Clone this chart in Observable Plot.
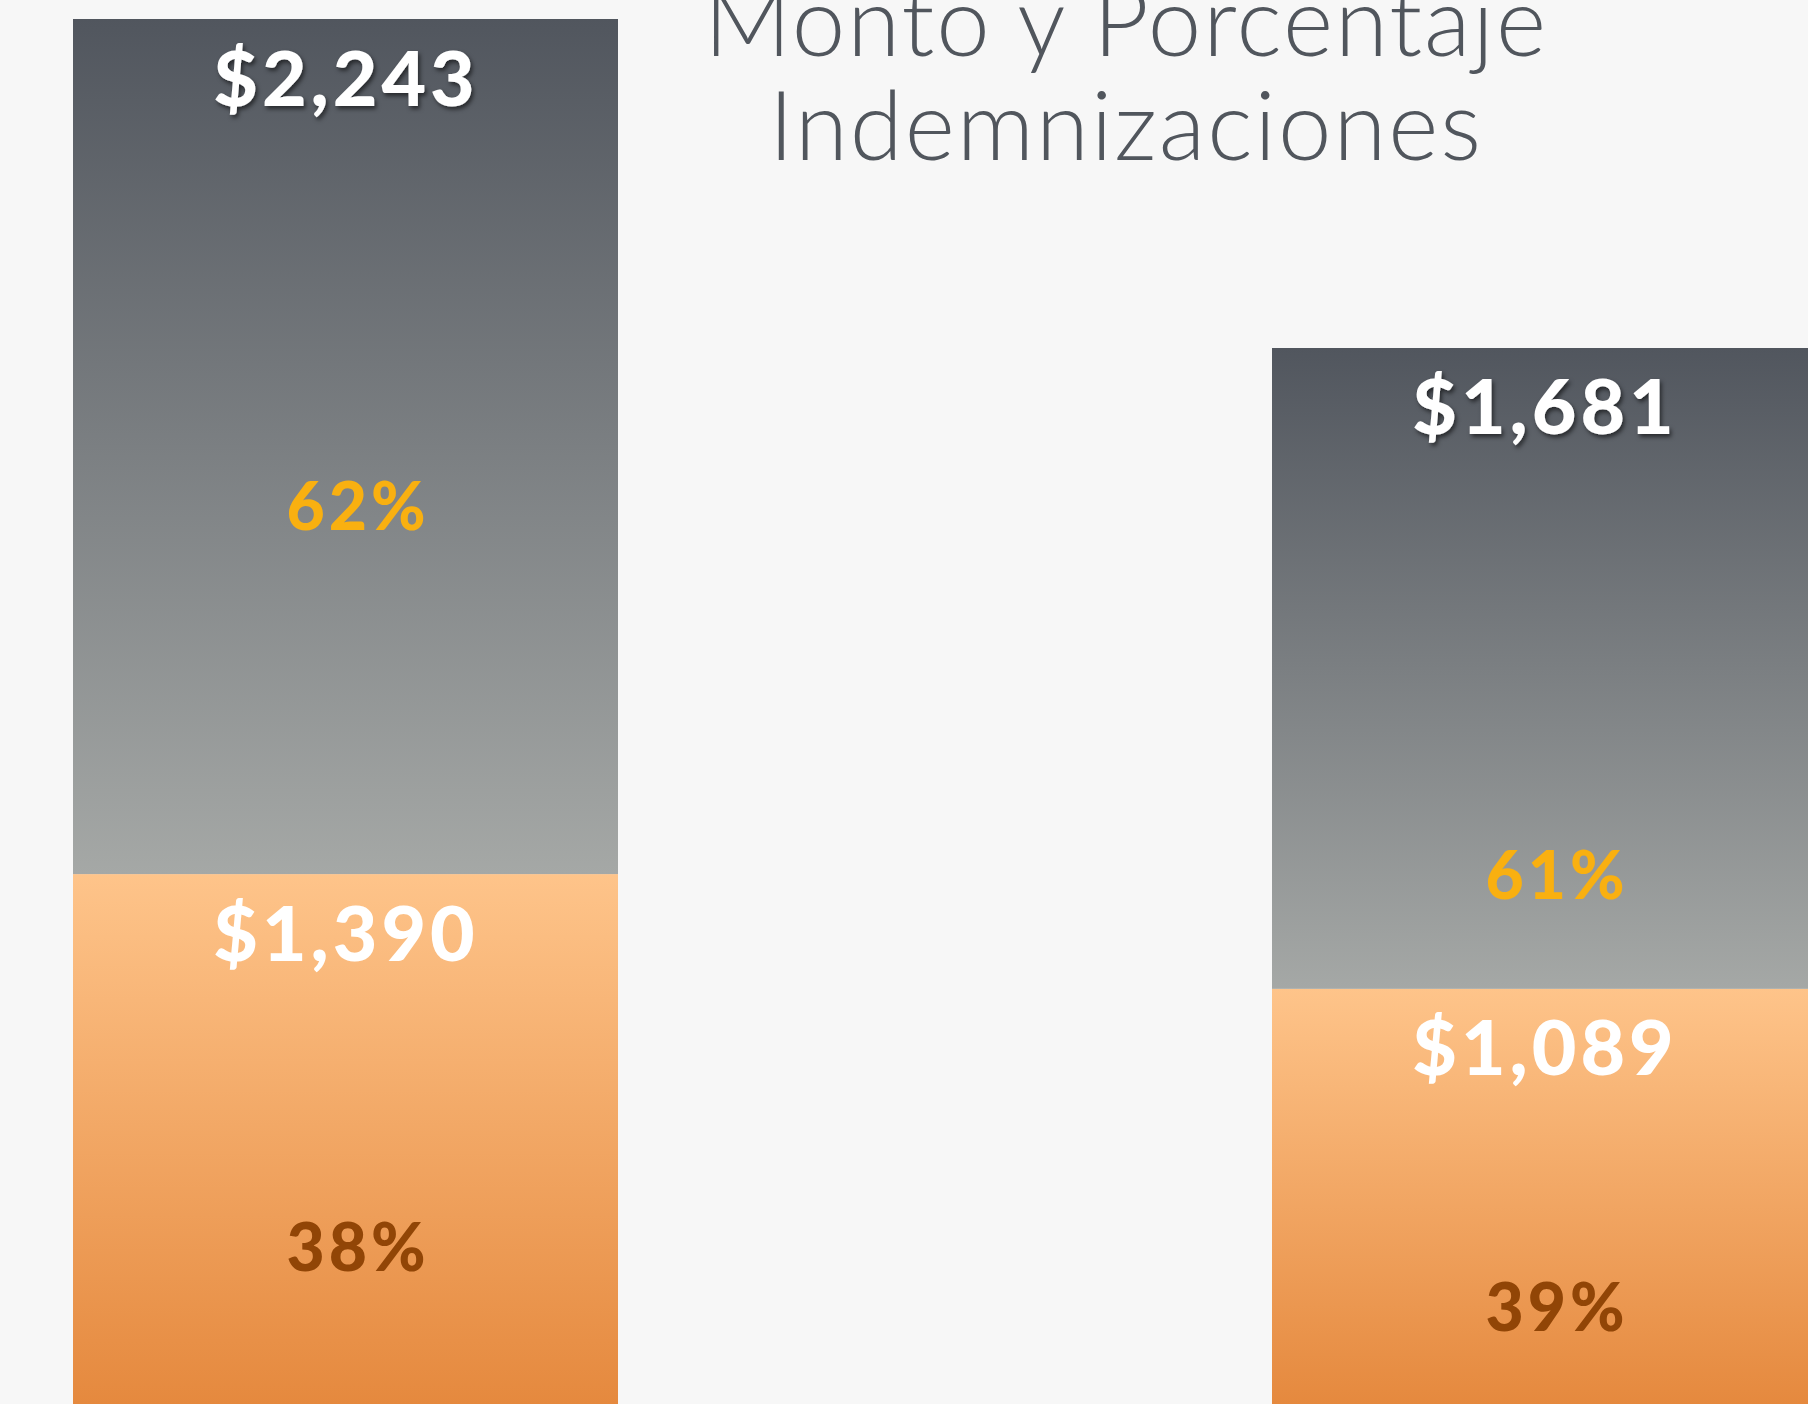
<!DOCTYPE html>
<html>
<head>
<meta charset="utf-8">
<script src="https://cdn.jsdelivr.net/npm/d3@7"></script>
<script src="https://cdn.jsdelivr.net/npm/@observablehq/plot@0.6"></script>
<style>
  html, body { margin: 0; padding: 0; background: #f7f7f7; overflow: hidden; }
  #wrap { position: relative; width: 1808px; height: 1404px; overflow: hidden; }
  #title {
    position: absolute; left: 1126px; top: -33px; transform: translateX(-50%);
    white-space: nowrap; text-align: center;
    font-family: Lato, "Open Sans", sans-serif; font-weight: 300;
    font-size: 96px; line-height: 104px; color: #51565d; letter-spacing: 2px;
  }
  svg g[aria-label="text"] text { letter-spacing: 4px; }
</style>
</head>
<body>
<div id="wrap">
  <div id="chart"></div>
  <div id="title">Monto y Porcentaje<br>Indemnizaciones</div>
</div>
<script>
// Categorías (sin etiquetas visibles en el gráfico)
const periodos = ["Periodo 1", "Periodo 2"];
// Montos por segmento
const montoSuperior = [2243, 1681];   // segmento gris
const montoInferior = [1390, 1089];   // segmento naranja
// Porcentajes
const pctSuperior = [62, 61];
const pctInferior = [38, 39];
const pctSuperiorEn = [2293, 1327];
const pctInferiorEn = [349, 192];

const rows = periodos.map((p, i) => ({
  periodo: p,
  inf: montoInferior[i],
  sup: montoSuperior[i],
  total: montoInferior[i] + montoSuperior[i],
  pctSup: pctSuperior[i],
  pctInf: pctInferior[i],
  pctSupY: pctSuperiorEn[i],
  pctInfY: pctInferiorEn[i]
}));

const fmt = d3.format("$,");

const chart = Plot.plot({
  width: 1808,
  height: 1404,
  marginTop: 19,
  marginBottom: 0,
  marginLeft: 0,
  marginRight: 0,
  style: { background: "#f7f7f7", fontFamily: "Lato, 'Open Sans', sans-serif" },
  x: { domain: periodos, range: [72, 1817], paddingInner: 0.5458, paddingOuter: 0, axis: null },
  y: { domain: [0, d3.max(rows, d => d.total)], axis: null },
  marks: [
    Plot.barY(rows, { x: "periodo", y1: 0, y2: "inf", fill: "url(#gradnaranja)" }),
    Plot.barY(rows, { x: "periodo", y1: "inf", y2: "total", fill: "url(#gradgris)" }),
    Plot.text(rows, { x: "periodo", y: "total", text: d => fmt(d.sup), lineAnchor: "bottom", dy: 86,
      fill: "white", fontSize: 77, fontWeight: 900 }),
    Plot.text(rows, { x: "periodo", y: "inf", text: d => fmt(d.inf), lineAnchor: "bottom", dy: 86,
      fill: "white", fontSize: 77, fontWeight: 900 }),
    Plot.text(rows, { x: "periodo", y: "pctSupY", text: d => d.pctSup + "%", lineAnchor: "bottom", dx: 12,
      fill: "#f9b010", fontSize: 66, fontWeight: 900 }),
    Plot.text(rows, { x: "periodo", y: "pctInfY", text: d => d.pctInf + "%", lineAnchor: "bottom", dx: 12,
      fill: "#914506", fontSize: 66, fontWeight: 900 })
  ]
});

const svg = d3.select(chart);
const defs = svg.insert("defs", ":first-child");
const gg = defs.append("linearGradient").attr("id", "gradgris")
  .attr("x1", 0).attr("y1", 0).attr("x2", 0).attr("y2", 1);
gg.append("stop").attr("offset", "0%").attr("stop-color", "#51565e");
gg.append("stop").attr("offset", "100%").attr("stop-color", "#a5a8a6");
const go = defs.append("linearGradient").attr("id", "gradnaranja")
  .attr("x1", 0).attr("y1", 0).attr("x2", 0).attr("y2", 1);
go.append("stop").attr("offset", "0%").attr("stop-color", "#fec48a");
go.append("stop").attr("offset", "100%").attr("stop-color", "#e5893e");
const sh = defs.append("filter").attr("id", "sombra")
  .attr("x", "-20%").attr("y", "-20%").attr("width", "140%").attr("height", "140%");
sh.append("feDropShadow").attr("dx", 2).attr("dy", 3).attr("stdDeviation", 2)
  .attr("flood-color", "#000").attr("flood-opacity", 0.55);
svg.selectAll('g[aria-label="text"]').filter((d, i) => i === 0).attr("filter", "url(#sombra)");

document.getElementById("chart").appendChild(chart);
</script>
</body>
</html>
